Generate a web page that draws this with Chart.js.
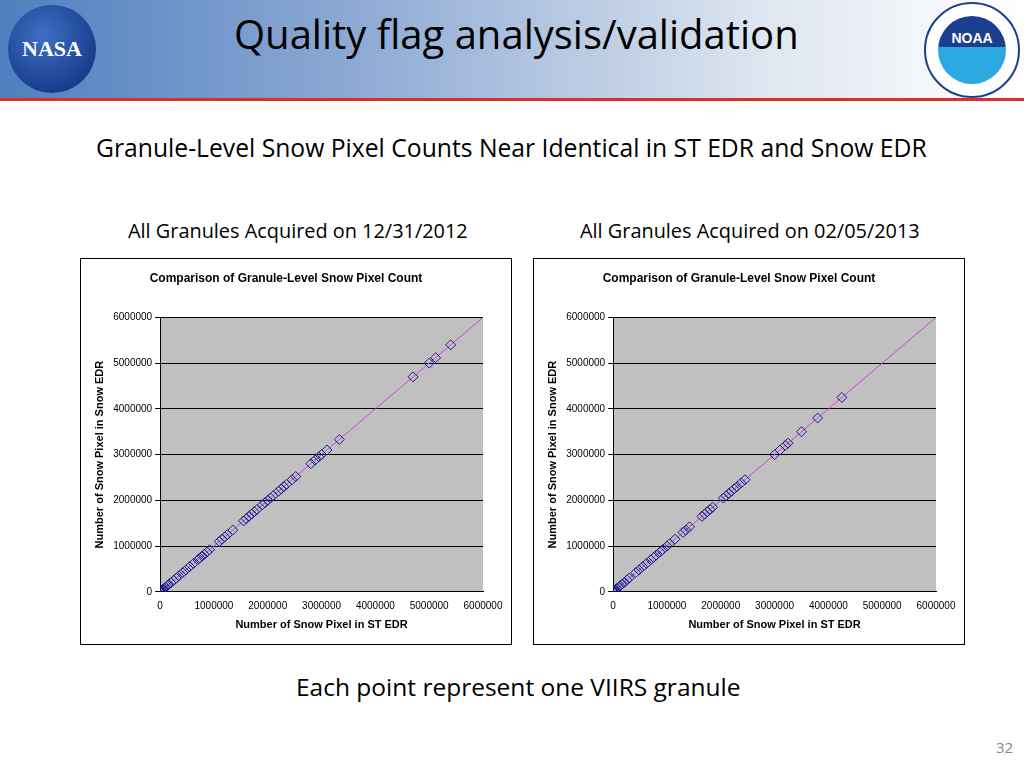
<!DOCTYPE html>
<html><head><meta charset="utf-8">
<script src="https://cdn.jsdelivr.net/npm/chart.js@4/dist/chart.umd.min.js"></script>
<style>
body{margin:0;width:1024px;height:768px;position:relative;background:#fff;font-family:"Open Sans",sans-serif;overflow:hidden}
#hdr{position:absolute;left:0;top:0;width:1024px;height:98px;background:linear-gradient(to right,#4f7fbf 0%,#8eaad4 35%,#dfe6f0 75%,#fff 100%);border-bottom:3px solid #d9302f}
#nasa{position:absolute;left:8px;top:5px;width:88px;height:88px;border-radius:50%;background:radial-gradient(circle at 40% 35%,#3e6fc4,#0b2a78);color:#fff;font:bold 22px "Liberation Serif";display:flex;align-items:center;justify-content:center}
#noaa{position:absolute;left:924px;top:2px;width:96px;height:96px;border-radius:50%;background:#fff;border:2px solid #1b3f8f;box-sizing:border-box;display:flex;align-items:center;justify-content:center}
#noaa div{width:68px;height:68px;border-radius:50%;background:linear-gradient(#1b3f8f 45%,#2ca8e0 45%);color:#fff;font:bold 14px "Liberation Sans";text-align:center;line-height:45px}
.t{position:absolute;white-space:nowrap;color:#000}
.box{position:absolute;top:258px;width:432px;height:387px;border:1px solid #000;box-sizing:border-box}
</style></head><body>
<div id="hdr"></div>
<div id="nasa">NASA</div>
<div id="noaa"><div>NOAA</div></div>
<div class="t" style="left:234px;top:6px;font-size:40px">Quality flag analysis/validation</div>
<div class="t" style="left:96px;top:131px;font-size:24.7px">Granule-Level Snow Pixel Counts Near Identical in ST EDR and Snow EDR</div>
<div class="t" style="left:128px;top:217px;font-size:19.9px">All Granules Acquired on 12/31/2012</div>
<div class="t" style="left:580px;top:217px;font-size:19.9px">All Granules Acquired on 02/05/2013</div>
<div class="box" style="left:80px"><canvas id="c1"></canvas></div>
<div class="box" style="left:533px"><canvas id="c2"></canvas></div>
<div class="t" style="left:296px;top:670px;font-size:24.5px">Each point represent one VIIRS granule</div>
<div class="t" style="left:996px;top:737px;font-size:15px;color:#888">32</div>
<script>
const tickValues=[0,1000000,2000000,3000000,4000000,5000000,6000000];
const stEdr1=[0,5000,12000,20000,30000,45000,60000,80000,100000,130000,160000,200000,250000,300000,350000,420000,480000,550000,620000,700000,740000,780000,820000,870000,920000,1100000,1150000,1200000,1250000,1350000,1550000,1600000,1650000,1700000,1750000,1800000,1900000,1950000,2000000,2050000,2100000,2200000,2250000,2300000,2350000,2450000,2520000,2800000,2880000,2950000,3000000,3100000,3330000,4700000,5000000,5120000,5400000];
const snowEdr1=[0,5000,12000,20000,30000,45000,60000,80000,100000,130000,160000,200000,250000,300000,350000,420000,480000,550000,620000,700000,740000,780000,820000,870000,920000,1100000,1150000,1200000,1250000,1350000,1550000,1600000,1650000,1700000,1750000,1800000,1900000,1950000,2000000,2050000,2100000,2200000,2250000,2300000,2350000,2450000,2520000,2800000,2880000,2950000,3000000,3100000,3330000,4700000,5000000,5120000,5400000];
const stEdr2=[0,5000,12000,20000,35000,50000,70000,100000,130000,170000,210000,260000,300000,420000,480000,550000,620000,700000,750000,800000,870000,920000,1000000,1050000,1150000,1300000,1350000,1420000,1650000,1700000,1750000,1800000,1850000,2050000,2100000,2150000,2200000,2250000,2300000,2380000,2450000,3000000,3100000,3200000,3250000,3500000,3800000,4250000];
const snowEdr2=[0,5000,12000,20000,35000,50000,70000,100000,130000,170000,210000,260000,300000,420000,480000,550000,620000,700000,750000,800000,870000,920000,1000000,1050000,1150000,1300000,1350000,1420000,1650000,1700000,1750000,1800000,1850000,2050000,2100000,2150000,2200000,2250000,2300000,2380000,2450000,3000000,3100000,3200000,3250000,3500000,3800000,4250000];
const lineX=[0,6000000],lineY=[0,6000000];
function mk(id,xs,ys){
 new Chart(document.getElementById(id),{type:'scatter',
 data:{datasets:[
  {data:lineX.map((x,i)=>({x,y:lineY[i]})),showLine:true,borderColor:'#d040e0',borderWidth:1,pointRadius:0,order:2},
  {data:xs.map((x,i)=>({x,y:ys[i]})),pointStyle:'rectRot',pointRadius:5,borderColor:'#1a1a90',borderWidth:1,backgroundColor:'rgba(0,0,0,0)',order:1}]},
 options:{responsive:true,maintainAspectRatio:false,animation:false,
  layout:{padding:{left:8,right:28,top:6,bottom:8}},
  plugins:{legend:{display:false},tooltip:{enabled:false},
   title:{display:true,text:'Comparison of Granule-Level Snow Pixel Count',color:'#000',font:{family:'Liberation Sans',size:12,weight:'bold'},padding:{top:6,bottom:32}}},
  scales:{
   x:{type:'linear',min:0,max:6000000,afterBuildTicks:a=>{a.ticks=tickValues.map(v=>({value:v}))},
    grid:{display:false,drawTicks:true,tickLength:5,tickColor:'#000'},border:{color:'#000'},
    ticks:{color:'#000',font:{family:'Liberation Sans',size:10},maxRotation:0,callback:v=>String(v)},
    title:{display:true,text:'Number of Snow Pixel in ST EDR',color:'#000',font:{family:'Liberation Sans',size:11,weight:'bold'}}},
   y:{type:'linear',min:0,max:6000000,afterBuildTicks:a=>{a.ticks=tickValues.map(v=>({value:v}))},
    grid:{color:'#000',tickLength:5,tickColor:'#000'},border:{color:'#000'},
    ticks:{color:'#000',font:{family:'Liberation Sans',size:10},callback:v=>String(v)},
    title:{display:true,text:'Number of Snow Pixel in Snow EDR',color:'#000',font:{family:'Liberation Sans',size:11,weight:'bold'}}}}},
 plugins:[{id:'bg',beforeDraw(c){const a=c.chartArea,x=c.ctx;x.save();x.fillStyle='#c0c0c0';x.fillRect(a.left,a.top,a.right-a.left,a.bottom-a.top);x.restore();}}]});
}
mk('c1',stEdr1,snowEdr1);mk('c2',stEdr2,snowEdr2);
</script></body></html>
